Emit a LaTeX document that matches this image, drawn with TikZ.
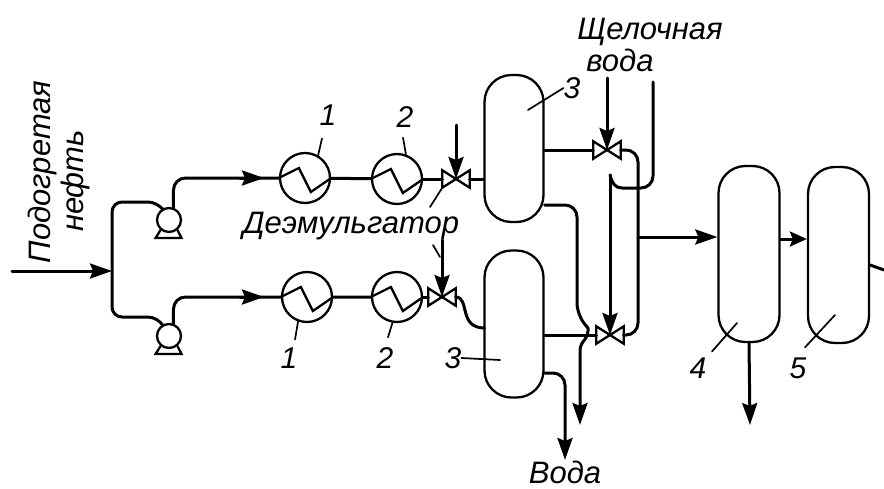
\documentclass[tikz,border=0pt]{standalone}
\usepackage{fontspec}
\setmainfont{Liberation Sans}
\usetikzlibrary{arrows.meta}

\tikzset{
  pipe/.style={line width=3pt, line cap=round},
  flow/.style={pipe, -{Stealth[length=22pt, width=15pt, inset=3pt]}},
  outline/.style={line width=2.3pt},
  leader/.style={line width=1.7pt, line cap=round},
  vessel/.style={outline, draw, rectangle, rounded corners=27pt, minimum width=59pt, minimum height=147pt, inner sep=0pt},
  exchangerbox/.style={outline, draw, circle, fill=white, minimum size=50pt, inner sep=0pt},
  pumpbox/.style={outline, draw, circle, fill=white, minimum size=24pt, inner sep=0pt},
  valvebox/.style={rectangle, minimum width=27pt, minimum height=17pt, inner sep=0pt},
  tag/.style={font=\itshape\fontsize{30pt}{30pt}\selectfont, inner sep=0pt},
  caption/.style={font=\itshape\fontsize{31pt}{31pt}\selectfont, inner sep=0pt}
}

\newcommand{\exchanger}[2]{
  \node[exchangerbox] (#1) at (#2) {};
  \draw[outline] (#1.west) -- ++(20,-10) -- ++(12,24) -- (#1.east);
}
\newcommand{\pump}[2]{
  \node[pumpbox] (#1) at (#2) {};
  \draw[outline] (#1.-130) -- ++(-5,8) -- ++(26,0) -- (#1.-50);
}
\newcommand{\valve}[2]{
  \node[valvebox] (#1) at (#2) {};
  \draw[outline] (#1.center) -- (#1.north west) -- (#1.south west) -- cycle;
  \draw[outline] (#1.center) -- (#1.north east) -- (#1.south east) -- cycle;
}

\begin{document}
\begin{tikzpicture}[x=1pt, y=-1pt]
  \useasboundingbox (0,0) rectangle (884,488);

  % apparatus
  \pump{pumpA}{169,220}
  \pump{pumpB}{169,336}
  \exchanger{heatA}{305,178}
  \exchanger{coolA}{397,179}
  \exchanger{heatB}{307,297}
  \exchanger{coolB}{397,297}
  \valve{valveA}{456,179}
  \valve{valveB}{442,297}
  \valve{valveC}{607,150}
  \valve{valveD}{610,335}
  \node[vessel] (settlerA) at (514,148.5) {};
  \node[vessel] (settlerB) at (514,324) {};
  \node[vessel, minimum width=61pt, minimum height=176pt] (washer) at (749,254) {};
  \node[vessel, minimum width=61pt, minimum height=176pt] (dryer) at (838.5,255) {};

  % free ends of the lines
  \coordinate (feedIn) at (12,271);
  \coordinate (header) at (112,271);
  \coordinate (inA) at (158,202);
  \coordinate (inB) at (158,317);
  \coordinate (outA) at (240,178);
  \coordinate (outB) at (240,297);
  \coordinate (demulsA) at (456,125);
  \coordinate (demulsB) at (442,240);
  \coordinate (stubA) at (430,207);
  \coordinate (stubB) at (433,245);
  \coordinate (stubC) at (440,257);
  \coordinate (inletB) at (484.5,328);
  \coordinate (alkaliIn) at (607,78);
  \coordinate (alkaliBack) at (653,82);
  \coordinate (alkaliLow) at (622,188);
  \coordinate (alkaliTop) at (610,175);
  \coordinate (bus) at (638,237);
  \coordinate (drainA) at (577,205);
  \coordinate (drainLow) at (577,315);
  \coordinate (forkA) at (588,328);
  \coordinate (forkB) at (580,346);
  \coordinate (dropA) at (580,425);
  \coordinate (drainB) at (565,373);
  \coordinate (dropB) at (565,460);
  \coordinate (dropC) at (750,425);
  \coordinate (exitOut) at (884,270);

  % lines
  \draw[flow] (feedIn) -- (header);
  \draw[pipe, rounded corners=10pt] (pumpA.120) -- (inA) -| (header) |- (inB) -- (pumpB.120);
  \draw[pipe, rounded corners=12pt] (pumpA.70) |- (heatA.west);
  \draw[pipe, rounded corners=12pt] (pumpB.70) |- (heatB.west);
  \draw[flow] (outA) -- ++(24,0);
  \draw[flow] (outB) -- ++(24,0);
  \draw[pipe] (heatA) -- (coolA) (heatB) -- (coolB);
  \draw[pipe] (coolA.east) -- (valveA.west);
  \draw[pipe] (coolB.east) -- (valveB.west);
  \draw[pipe] (valveA.east) -- (settlerA.west |- valveA);
  \draw[pipe] (valveB.east) .. controls (470,297) and (458,328) .. (inletB);
  \draw[flow] (demulsA) -- (valveA.center);
  \draw[flow] (demulsB) -- (valveB.center);
  \draw[leader] (valveA.south west) -- (stubA);
  \draw[leader] (stubB) -- (stubC);
  \draw[pipe] (settlerA.east |- valveC) -- (valveC.west);
  \draw[pipe] (settlerB.east |- valveD) -- (valveD.west);
  \draw[flow] (alkaliIn) -- (valveC.center);
  \draw[pipe, rounded corners=12pt] (valveC.east) -| (bus) |- (valveD.east);
  \draw[pipe, rounded corners=12pt] (alkaliBack) |- (alkaliLow);
  \draw[pipe] (alkaliLow) .. controls (615,188) and (612,183) .. (alkaliTop);
  \draw[flow] (alkaliTop) -- (valveD.center);
  \draw[pipe, rounded corners=12pt] (settlerA.east |- drainA) -- (drainA) -- (drainLow) -- (forkA);
  \draw[flow, rounded corners=4pt] (forkA) -- ++(0,7) -- (forkB) -- (dropA);
  \draw[flow, rounded corners=12pt] (settlerB.east |- drainB) -| (dropB);
  \draw[flow] (bus) -- (washer.west |- bus);
  \draw[pipe, -{Stealth[length=17pt, width=15pt, inset=3pt]}] (washer.east |- 0,239) -- (dryer.west |- 0,239);
  \draw[flow] (washer.south) -- (dropC);
  \draw[pipe] (dryer.east |- 0,265) -- (exitOut);

  % numbers
  \node[tag] (tagA) at (328,115) {1};
  \node[tag] (tagB) at (405,117) {2};
  \node[tag] (tagC) at (289,358) {1};
  \node[tag] (tagD) at (385,358) {2};
  \node[tag] (tagE) at (572,88) {3};
  \node[tag] (tagF) at (453,358) {3};
  \node[tag] (tagG) at (698,368) {4};
  \node[tag] (tagH) at (798,368) {5};
  \draw[leader] (tagA.south) ++(-6,13) -- (heatA.60);
  \draw[leader] (tagB.south) ++(-2,10) -- (coolA.70);
  \draw[leader] (tagC.north) ++(6,-8) -- (heatB.-110);
  \draw[leader] (tagD.north) ++(3,-10) -- (coolB.-100);
  \draw[leader] (tagE.west) -- (528,110);
  \draw[leader] (tagF.east) -- (500,360);
  \draw[leader] (tagG.north) ++(14,-6) -- (737,323);
  \draw[leader] (tagH.north) ++(7,-10) -- (835,315);

  % captions
  \node[caption, rotate=90] (oilA) at (42,172) {Подогретая};
  \node[caption, rotate=90] (oilB) at (75,181) {нефть};
  \node[caption] (demulsifier) at (351,226) {Деэмульгатор};
  \node[caption] (alkaliA) at (650,32) {Щелочная};
  \node[caption] (alkaliB) at (620,60) {вода};
  \node[caption] (water) at (565,472) {Вода};
\end{tikzpicture}
\end{document}
